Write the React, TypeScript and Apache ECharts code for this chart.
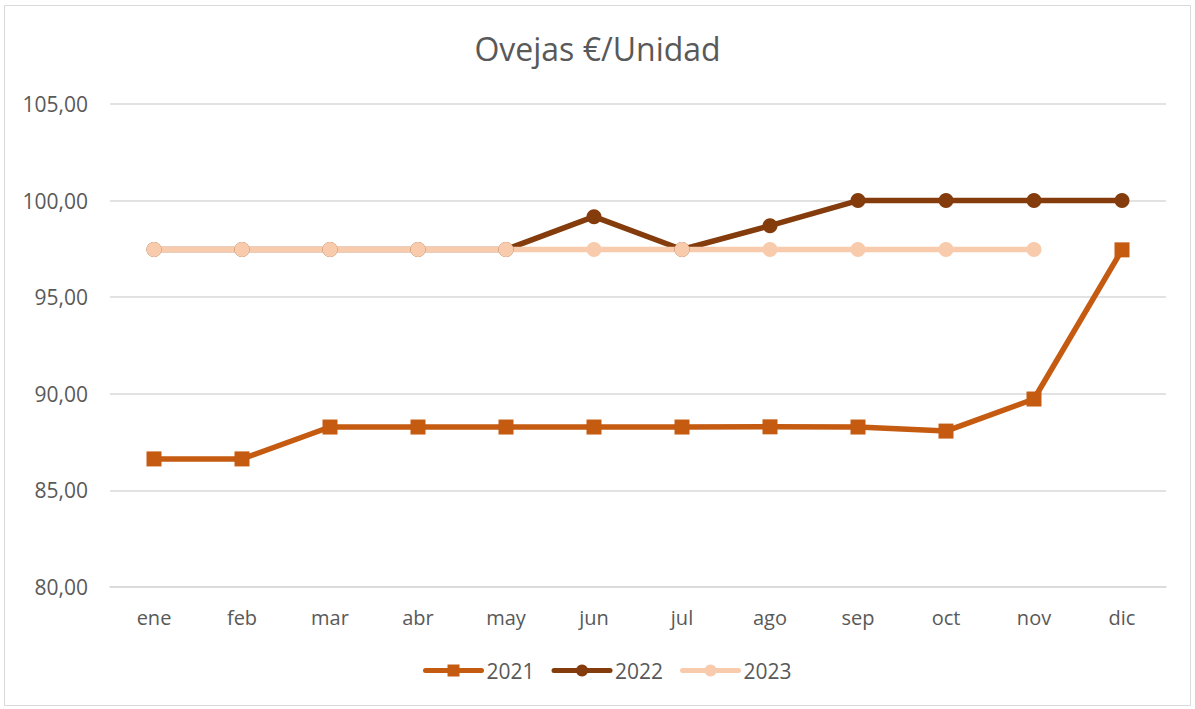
import React, { useEffect, useRef } from "react";
import * as echarts from "echarts";

const months = ["ene", "feb", "mar", "abr", "may", "jun", "jul", "ago", "sep", "oct", "nov", "dic"];
const s2021 = [86.63, 86.63, 88.28, 88.28, 88.28, 88.28, 88.28, 88.29, 88.28, 88.07, 89.73, 97.45];
const s2022 = [97.47, 97.47, 97.47, 97.47, 97.47, 99.17, 97.47, 98.7, 100, 100, 100, 100];
const s2023 = [97.47, 97.47, 97.47, 97.47, 97.47, 97.47, 97.47, 97.47, 97.47, 97.47, 97.47, null];

const FONT = "'Open Sans', 'Liberation Sans', sans-serif";

export default function App() {
  const ref = useRef<HTMLDivElement>(null);
  useEffect(() => {
    const chart = echarts.init(ref.current!, null, { renderer: "svg" });
    const mk = (name: string, data: (number | null)[], color: string, symbol: string, size: number) => ({
      name,
      type: "line",
      data,
      symbol,
      symbolSize: size,
      showSymbol: true,
      lineStyle: { color, width: 5.5, cap: "round", join: "round" },
      itemStyle: { color },
      emphasis: { disabled: true },
    });
    chart.setOption({
      animation: false,
      backgroundColor: "#ffffff",
      textStyle: { fontFamily: FONT },
      title: {
        text: "Ovejas €/Unidad",
        left: "center",
        top: 27,
        textStyle: { color: "#595959", fontSize: 32, fontWeight: "normal", fontFamily: FONT },
      },
      graphic: [
        {
          type: "rect",
          shape: { x: 4.5, y: 5.5, width: 1186, height: 700 },
          style: { fill: "none", stroke: "#d9d9d9", lineWidth: 1 },
          silent: true,
        },
      ],
      legend: {
        bottom: 23,
        left: 418,
        itemWidth: 56,
        itemHeight: 15,
        itemGap: 17,
        lineStyle: { width: 5, cap: "round" },
        textStyle: { color: "#595959", fontSize: 21, fontFamily: FONT },
        data: ["2021", "2022", "2023"],
      },
      grid: { left: 110, right: 29, top: 104, bottom: 122, containLabel: false },
      xAxis: {
        type: "category",
        data: months,
        boundaryGap: true,
        axisLine: { show: true, lineStyle: { color: "#d9d9d9", width: 1.5 } },
        axisTick: { show: false },
        axisLabel: { color: "#595959", fontSize: 20, margin: 20, fontFamily: FONT },
      },
      yAxis: {
        type: "value",
        min: 80,
        max: 105,
        interval: 5,
        axisLine: { show: false },
        axisTick: { show: false },
        splitLine: { lineStyle: { color: "#d9d9d9", width: 1.5 } },
        axisLabel: {
          color: "#595959",
          fontSize: 21,
          margin: 22,
          fontFamily: FONT,
          formatter: (v: number) => v.toFixed(2).replace(".", ","),
        },
      },
      series: [
        mk("2021", s2021, "#C55A11", "rect", 15),
        mk("2022", s2022, "#843C0C", "circle", 15),
        mk("2023", s2023, "#F8CBAD", "circle", 15),
      ],
    });
    return () => chart.dispose();
  }, []);
  return (
    <div style={{ position: "absolute", left: 0, top: 0, width: 1195, height: 709 }}>
      <div ref={ref} style={{ width: 1195, height: 709 }} />
    </div>
  );
}
